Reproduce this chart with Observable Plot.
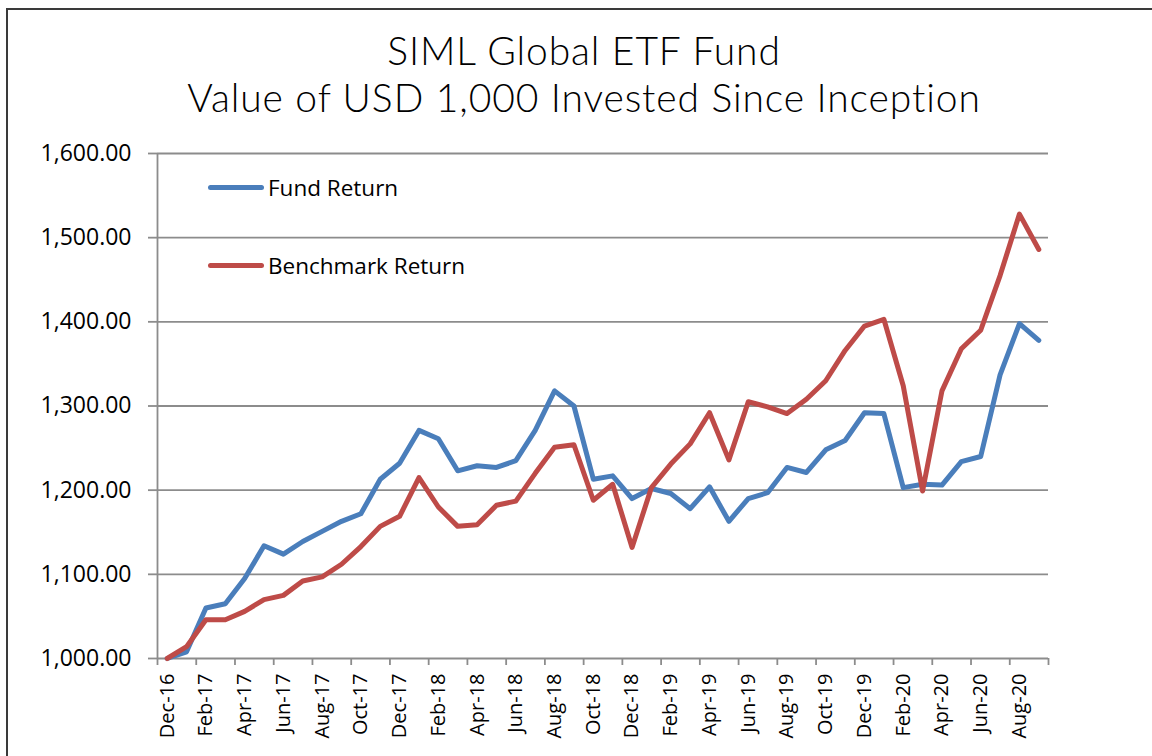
<!DOCTYPE html>
<html>
<head>
<meta charset="utf-8">
<script src="https://cdn.jsdelivr.net/npm/d3@7"></script>
<script src="https://cdn.jsdelivr.net/npm/@observablehq/plot@0.6"></script>
<style>
  html, body { margin: 0; padding: 0; background: #fff; }
  #wrap { position: relative; width: 1152px; height: 756px; overflow: hidden; background: #fff; }
  #frame { position: absolute; left: 6px; top: 8px; width: 1300px; height: 900px; border-left: 2px solid #3a3a3a; border-top: 2px solid #3a3a3a; }
  #title { position: absolute; left: 0; top: 27px; width: 1168px; text-align: center; font-family: "Lato", sans-serif; font-weight: 300; font-size: 39px; letter-spacing: 0.9px; line-height: 47px; color: #000; }
  #chart { position: absolute; left: 0; top: 140px; }
  .leg { position: absolute; font-family: "Open Sans", sans-serif; font-size: 22.5px; color: #000; display: flex; align-items: center; }
  .leg span.sw { display: inline-block; width: 56px; height: 5px; border-radius: 3px; margin-right: 4px; }
</style>
</head>
<body>
<div id="wrap">
  <div id="frame"></div>
  <div id="title">SIML Global ETF Fund<br>Value of USD 1,000 Invested Since Inception</div>
  <div id="chart"></div>
  <div class="leg" style="left:208px; top:172px;"><span class="sw" style="background:#4a7ebb"></span>Fund Return</div>
  <div class="leg" style="left:208px; top:250px;"><span class="sw" style="background:#be4b48"></span>Benchmark Return</div>
</div>
<script>
const months = [
  "Dec-16","Jan-17","Feb-17","Mar-17","Apr-17","May-17","Jun-17","Jul-17","Aug-17","Sep-17","Oct-17","Nov-17",
  "Dec-17","Jan-18","Feb-18","Mar-18","Apr-18","May-18","Jun-18","Jul-18","Aug-18","Sep-18","Oct-18","Nov-18",
  "Dec-18","Jan-19","Feb-19","Mar-19","Apr-19","May-19","Jun-19","Jul-19","Aug-19","Sep-19","Oct-19","Nov-19",
  "Dec-19","Jan-20","Feb-20","Mar-20","Apr-20","May-20","Jun-20","Jul-20","Aug-20","Sep-20"
];
const fundReturn = [
  1000, 1008, 1060, 1065, 1095, 1134, 1124, 1139, 1151, 1163, 1172, 1213,
  1232, 1271, 1261, 1223, 1229, 1227, 1235, 1271, 1318, 1300, 1213, 1217,
  1190, 1202, 1196, 1178, 1204, 1163, 1190, 1197, 1227, 1221, 1248, 1259,
  1292, 1291, 1203, 1207, 1206, 1234, 1240, 1337, 1398, 1378
];
const benchmarkReturn = [
  1000, 1014, 1046, 1046, 1056, 1070, 1075, 1092, 1097, 1112, 1133, 1157,
  1169, 1215, 1180, 1157, 1159, 1182, 1187, 1220, 1251, 1254, 1188, 1207,
  1132, 1203, 1231, 1255, 1292, 1236, 1305, 1299, 1291, 1308, 1330, 1366,
  1395, 1403, 1324, 1199, 1318, 1368, 1390, 1455, 1528, 1486
];
const yTicks = [1000, 1100, 1200, 1300, 1400, 1500, 1600];
const labelIdx = months.map((m, i) => i).filter(i => i % 2 === 0);
const boundaries = d3.range(months.length + 1).filter(i => i % 2 === 0).map(i => i - 0.5);

const fundRows = fundReturn.map((v, i) => ({i, v}));
const benchRows = benchmarkReturn.map((v, i) => ({i, v}));

const grid = "#8c8c8c";
const chart = Plot.plot({
  width: 1152,
  height: 610,
  marginTop: 13,
  marginRight: 104,
  marginBottom: 92,
  marginLeft: 157,
  style: { fontFamily: "'Open Sans', sans-serif", background: "transparent", color: "#000", overflow: "visible" },
  x: { type: "linear", domain: [-0.5, months.length - 0.5] },
  y: { domain: [1000, 1600] },
  marks: [
    Plot.ruleY(yTicks, { stroke: grid, strokeWidth: 1.8 }),
    Plot.ruleX([-0.5], { stroke: grid, strokeWidth: 1.8 }),
    Plot.axisY({ ticks: yTicks, tickFormat: d3.format(",.2f"), tickSize: 9, tickPadding: 17, stroke: grid, strokeWidth: 1.8, fontSize: 23, label: null }),
    Plot.axisX({ ticks: labelIdx, tickFormat: i => months[i], tickSize: 0, tickPadding: 15, tickRotate: -90, fontSize: 20, label: null }),
    Plot.axisX({ ticks: boundaries, tickFormat: () => "", tickSize: 7, stroke: grid, strokeWidth: 1.8, label: null }),
    Plot.line(fundRows, { x: "i", y: "v", stroke: "#4a7ebb", strokeWidth: 5, strokeLinejoin: "round", strokeLinecap: "round" }),
    Plot.line(benchRows, { x: "i", y: "v", stroke: "#be4b48", strokeWidth: 5, strokeLinejoin: "round", strokeLinecap: "round" })
  ]
});
document.getElementById("chart").appendChild(chart);
</script>
</body>
</html>
